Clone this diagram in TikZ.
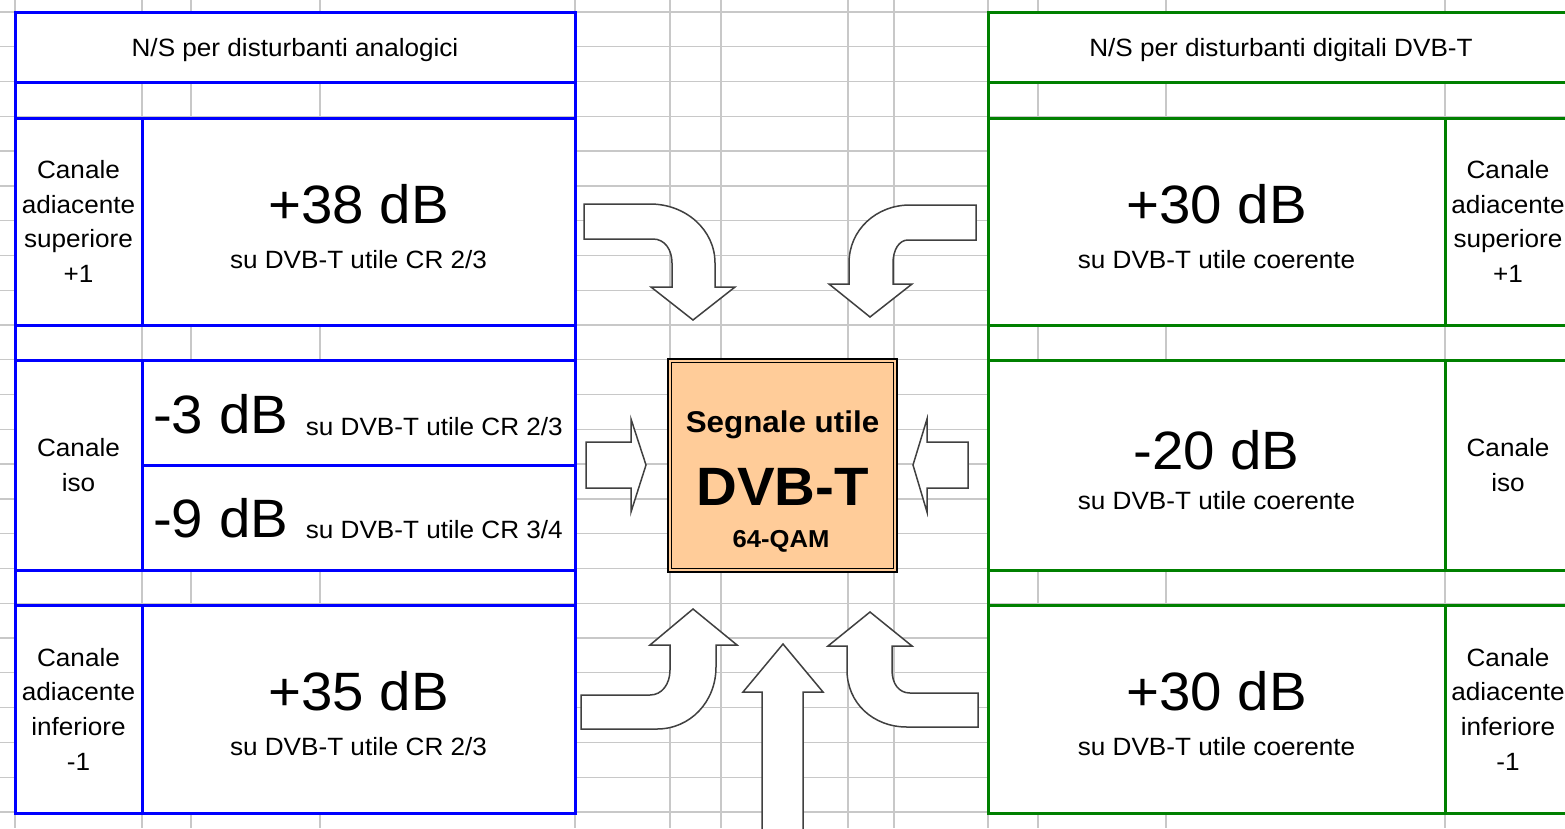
\documentclass[tikz,border=0pt]{standalone}
\usepackage{fontspec}
\setmainfont{Liberation Sans}[FakeStretch=1.045]
\definecolor{xblue}{HTML}{0000FF}
\definecolor{xgreen}{HTML}{008000}
\definecolor{gridgray}{HTML}{C8C8C8}
\definecolor{orangefill}{HTML}{FFCC99}
\definecolor{arrowgray}{HTML}{404040}
\begin{document}
\begin{tikzpicture}[x=1pt,y=-1pt,
  gridline/.style={draw=gridgray, line width=1.3pt},
  cellbox/.style={rectangle, fill=white, line width=3pt, inner sep=0pt, outer sep=0pt, anchor=north west},
  bbox/.style={cellbox, draw=xblue},
  gbox/.style={cellbox, draw=xgreen},
  blueline/.style={draw=xblue, line width=3pt},
  greenline/.style={draw=xgreen, line width=3pt},
  small/.style={font=\fontsize{25}{34.7}\selectfont, align=center, inner sep=0pt},
  headtext/.style={font=\fontsize{25}{30}\selectfont, inner sep=0pt, anchor=base},
  bigval/.style={font=\fontsize{54}{60}\selectfont, inner sep=0pt, anchor=base},
  subval/.style={font=\fontsize{25}{30}\selectfont, inner sep=0pt, anchor=base},
  blockarrow/.style={draw=arrowgray, line width=1.5pt, fill=white, line join=miter}]
\useasboundingbox (0,0) rectangle (1565,828);
\begin{scope}
\clip (0,0) rectangle (1565,828);
\fill[white] (0,0) rectangle (1565,828);
% spreadsheet grid
\foreach \i in {-1,...,23} \draw[gridline] (0,{12+34.78*\i}) -- (1565,{12+34.78*\i});
\foreach \x in {15,142,191,320,575,670,721,848,894,988,1038,1166,1445} \draw[gridline] (\x,0) -- (\x,828);

% ---------- left (blue) table ----------
\draw[blueline] (15,12) -- (15,813);
\draw[blueline] (575,12) -- (575,813);
\node[bbox, minimum width=560pt, minimum height=70pt] (hA) at (15,12) {};
\node[bbox, minimum width=127pt, minimum height=207pt] (lA1) at (15,118) {};
\node[bbox, minimum width=433pt, minimum height=207pt] (vA1) at (142,118) {};
\node[bbox, minimum width=127pt, minimum height=210pt] (lA2) at (15,360) {};
\node[bbox, minimum width=433pt, minimum height=105pt] (vA2) at (142,360) {};
\node[bbox, minimum width=433pt, minimum height=105pt] (vA3) at (142,465) {};
\node[bbox, minimum width=127pt, minimum height=208pt] (lA4) at (15,605) {};
\node[bbox, minimum width=433pt, minimum height=208pt] (vA4) at (142,605) {};

% ---------- right (green) table ----------
\draw[greenline] (988,12) -- (988,813);
\node[gbox, minimum width=640pt, minimum height=70pt] (hD) at (988,12) {};
\node[gbox, minimum width=457pt, minimum height=207pt] (vD1) at (988,118) {};
\node[gbox, minimum width=180pt, minimum height=207pt] (lD1) at (1445,118) {};
\node[gbox, minimum width=457pt, minimum height=210pt] (vD2) at (988,360) {};
\node[gbox, minimum width=180pt, minimum height=210pt] (lD2) at (1445,360) {};
\node[gbox, minimum width=457pt, minimum height=208pt] (vD3) at (988,605) {};
\node[gbox, minimum width=180pt, minimum height=208pt] (lD3) at (1445,605) {};

% ---------- texts left ----------
\node[headtext] (hAt) at (295,56) {N/S per disturbanti analogici};
\node[small] (lA1t) at (78.5,221.5) {Canale\\adiacente\\superiore\\+1};
\node[bigval] (vA1t) at (358.5,223) {+38 dB};
\node[subval] (vA1s) at (358.5,268) {su DVB-T utile CR 2/3};
\node[small] (lA2t) at (78.5,465) {Canale\\iso};
\node[bigval, anchor=base west] (vA2t) at (153,433) {-3 dB};
\node[subval, anchor=base east] (vA2s) at (563,435) {su DVB-T utile CR 2/3};
\node[bigval, anchor=base west] (vA3t) at (153,537) {-9 dB};
\node[subval, anchor=base east] (vA3s) at (563,538) {su DVB-T utile CR 3/4};
\node[small] (lA4t) at (78.5,709) {Canale\\adiacente\\inferiore\\-1};
\node[bigval] (vA4t) at (358.5,710) {+35 dB};
\node[subval] (vA4s) at (358.5,755) {su DVB-T utile CR 2/3};

% ---------- texts right ----------
\node[headtext] (hDt) at (1281,56) {N/S per disturbanti digitali DVB-T};
\node[bigval] (vD1t) at (1216.5,223) {+30 dB};
\node[subval] (vD1s) at (1216.5,268) {su DVB-T utile coerente};
\node[small] (lD1t) at (1508,221.5) {Canale\\adiacente\\superiore\\+1};
\node[bigval] (vD2t) at (1216.5,469) {-20 dB};
\node[subval] (vD2s) at (1216.5,509) {su DVB-T utile coerente};
\node[small] (lD2t) at (1508,465) {Canale\\iso};
\node[bigval] (vD3t) at (1216.5,710) {+30 dB};
\node[subval] (vD3s) at (1216.5,755) {su DVB-T utile coerente};
\node[small] (lD3t) at (1508,709) {Canale\\adiacente\\inferiore\\-1};

% ---------- block arrows ----------
% top left, bent down
\draw[blockarrow] (584,204) -- (650,204) .. controls (686,204) and (715,230) .. (715,263)
  -- (715,287) -- (735,287) -- (693,320) -- (651,287) -- (672,287) -- (672,263)
  .. controls (672,250) and (665,239) .. (653,239) -- (584,239) -- cycle;
% top right, bent down
\draw[blockarrow] (976,205) -- (910,205) .. controls (876,205) and (849,230) .. (849,263)
  -- (849,284) -- (829,284) -- (870,317) -- (912,284) -- (893,284) -- (893,263)
  .. controls (893,250) and (899,240) .. (908,240) -- (976,240) -- cycle;
% bottom left, bent up
\draw[blockarrow] (581,695) -- (650,695) .. controls (662,695) and (670,684) .. (670,670)
  -- (670,645) -- (650,645) -- (693,609) -- (737,645) -- (716,645) -- (716,667)
  .. controls (716,702) and (690,729) .. (657,729) -- (581,729) -- cycle;
% bottom right, bent up
\draw[blockarrow] (978,693) -- (910,693) .. controls (899,693) and (892,684) .. (892,670)
  -- (892,646) -- (912,646) -- (870,612) -- (828,646) -- (847,646) -- (847,670)
  .. controls (847,703) and (873,727) .. (907,727) -- (978,727) -- cycle;
% bottom centre, straight up
\draw[blockarrow] (762,840) -- (762,692) -- (743,692) -- (783,644) -- (823,692) -- (803,692) -- (803,840) -- cycle;
% left straight arrow
\draw[blockarrow] (586,442) -- (631,442) -- (631,419) -- (646,465) -- (631,512) -- (631,488) -- (586,488) -- cycle;
% right straight arrow
\draw[blockarrow] (968,442) -- (927,442) -- (927,419) -- (913,465) -- (927,512) -- (927,488) -- (968,488) -- cycle;

% ---------- centre box ----------
\node[draw=black, line width=1.8pt, fill=orangefill, rectangle, minimum width=229pt, minimum height=213pt, inner sep=0pt] (dvb) at (782.5,465.5) {};
\draw[line width=0.9pt] ([shift={(4.5pt,-4.5pt)}]dvb.north west) rectangle ([shift={(-4.5pt,4.5pt)}]dvb.south east);
\node[font=\bfseries\fontsize{30}{36}\selectfont, inner sep=0pt, anchor=base] (seg) at (782.5,432) {Segnale utile};
\node[font=\bfseries\fontsize{54}{60}\selectfont, inner sep=0pt, anchor=base] (dvbt) at (782.5,505) {DVB-T};
\node[font=\bfseries\fontsize{24.5}{30}\selectfont, inner sep=0pt, anchor=base] (qam) at (781,547) {64-QAM};
\end{scope}
\end{tikzpicture}
\end{document}
